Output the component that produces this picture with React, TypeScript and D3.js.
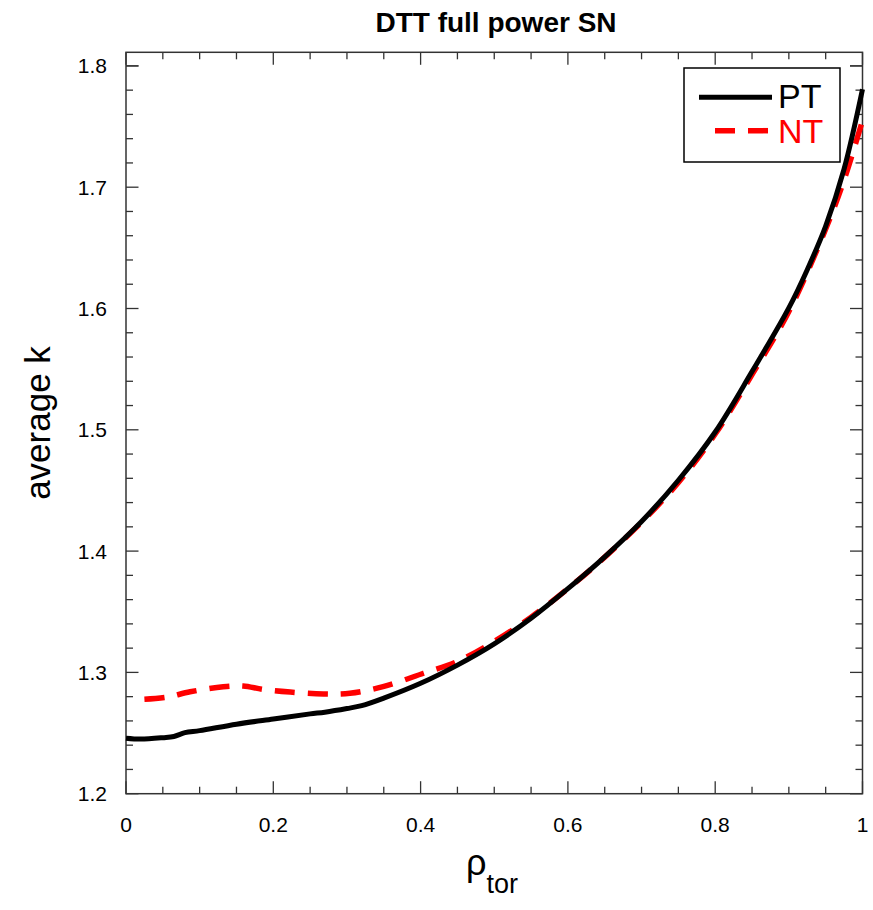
import React from "react";
import * as d3 from "d3";

const rhoPT = [0, 0.02, 0.05, 0.065, 0.08, 0.1, 0.15, 0.2, 0.25, 0.27, 0.3, 0.32, 0.35, 0.4, 0.45, 0.5, 0.55, 0.6, 0.65, 0.7, 0.75, 0.8, 0.85, 0.9, 0.925, 0.95, 0.975, 1.0];
const kPT = [1.2457, 1.245, 1.2462, 1.2472, 1.2503, 1.252, 1.2573, 1.2616, 1.2658, 1.2672, 1.2702, 1.2726, 1.2788, 1.291, 1.306, 1.3235, 1.3446, 1.369, 1.3953, 1.4244, 1.4584, 1.4982, 1.548, 1.6005, 1.632, 1.668, 1.715, 1.7807];

const rhoNT = [0.025, 0.055, 0.087, 0.132, 0.159, 0.186, 0.223, 0.268, 0.304, 0.349, 0.404, 0.45, 0.5, 0.55, 0.6, 0.65, 0.7, 0.75, 0.8, 0.85, 0.9, 0.95, 0.975, 1.0];
const kNT = [1.2778, 1.2795, 1.284, 1.2882, 1.2888, 1.286, 1.2838, 1.2822, 1.2828, 1.2882, 1.2993, 1.309, 1.3255, 1.3455, 1.369, 1.395, 1.4238, 1.4565, 1.4965, 1.5455, 1.5975, 1.6655, 1.706, 1.755];

const xTicks = [0, 0.2, 0.4, 0.6, 0.8, 1];
const yTicks = [1.2, 1.3, 1.4, 1.5, 1.6, 1.7, 1.8];
const seriesNames = ["PT", "NT"];
const title = "DTT full power SN";

export default function App() {
  const W = 873, H = 910;
  const left = 126, right = 862.5, top = 52.3, bottom = 793.7;
  const x = d3.scaleLinear().domain([0, 1]).range([left, right]);
  const y = d3.scaleLinear().domain([1.2, 1.2 + (bottom - top) / 1213]).range([bottom, top]);

  const line = d3.line<[number, number]>().x(d => x(d[0])).y(d => y(d[1])).curve(d3.curveCatmullRom.alpha(0.5));
  const ptData: [number, number][] = rhoPT.map((r, i) => [r, kPT[i]]);
  const ntData: [number, number][] = rhoNT.map((r, i) => [r, kNT[i]]);

  const xMinor = d3.range(0, 1.0001, 0.05);
  const yMinor = d3.range(1.2, 1.8001, 0.02).concat([1.8]);
  const font = "'Liberation Sans', Arial, Helvetica, sans-serif";
  const axisColor = "#333";

  return (
    <svg width={W} height={H} style={{ position: "absolute", left: 0, top: 0 }} fontFamily={font}>
      <rect x={0} y={0} width={W} height={H} fill="white" />
      <text x={496} y={31.5} textAnchor="middle" fontSize={28} fontWeight="bold">{title}</text>

      {xMinor.map((v, i) => {
        const major = xTicks.some(t => Math.abs(t - v) < 1e-6);
        const len = major ? 12.5 : 7;
        return (
          <g key={"xm" + i} stroke={axisColor} strokeWidth={1.3}>
            <line x1={x(v)} x2={x(v)} y1={bottom} y2={bottom - len} />
            <line x1={x(v)} x2={x(v)} y1={top} y2={top + len} />
          </g>
        );
      })}
      {yMinor.map((v, i) => {
        const major = yTicks.some(t => Math.abs(t - v) < 1e-6);
        const len = major ? 12.5 : 7;
        return (
          <g key={"ym" + i} stroke={axisColor} strokeWidth={1.3}>
            <line x1={left} x2={left + len} y1={y(v)} y2={y(v)} />
            <line x1={right} x2={right - len} y1={y(v)} y2={y(v)} />
          </g>
        );
      })}
      <rect x={left} y={top} width={right - left} height={bottom - top} fill="none" stroke={axisColor} strokeWidth={1.5} />

      {xTicks.map(t => (
        <text key={"xt" + t} x={x(t)} y={832} textAnchor="middle" fontSize={21}>{String(t)}</text>
      ))}
      {yTicks.map(t => (
        <text key={"yt" + t} x={107} y={y(t) + 7.5} textAnchor="end" fontSize={21}>{t.toFixed(1)}</text>
      ))}

      <text transform={`translate(50,${423}) rotate(-90)`} textAnchor="middle" fontSize={35}>average k</text>
      <text x={466} y={875} fontSize={36}>ρ<tspan fontSize={27} dy={18}>tor</tspan></text>

      <path d={line(ntData) || ""} fill="none" stroke="#ff0000" strokeWidth={5.5} strokeDasharray="20 13" />
      <path d={line(ptData) || ""} fill="none" stroke="black" strokeWidth={5} />

      <rect x={684} y={68} width={156} height={94} fill="white" stroke="black" strokeWidth={1.5} />
      <line x1={699} x2={772} y1={97.3} y2={97.3} stroke="black" strokeWidth={5} />
      <line x1={715} x2={772} y1={130.7} y2={130.7} stroke="#ff0000" strokeWidth={5.5} strokeDasharray="20 13" />
      <text x={778} y={108} fontSize={34} fill="black">{seriesNames[0]}</text>
      <text x={778} y={142.5} fontSize={34} fill="#ff0000">{seriesNames[1]}</text>
    </svg>
  );
}
